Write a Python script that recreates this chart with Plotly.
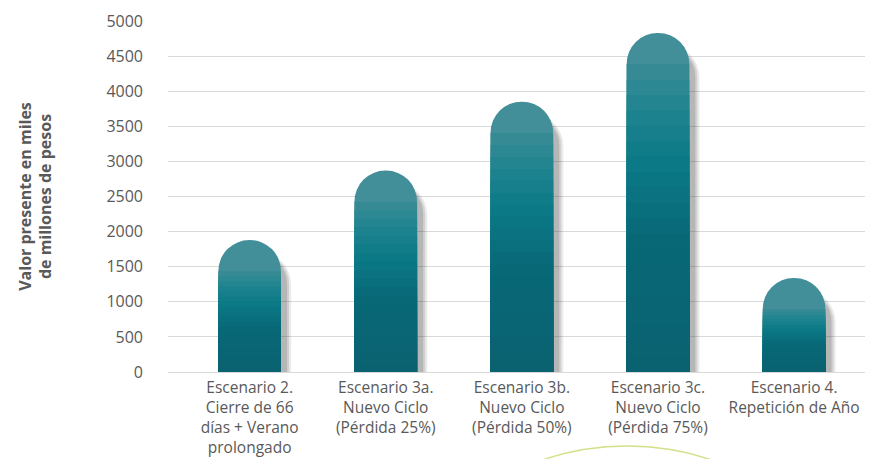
import plotly.graph_objects as go

categories = [
    "Escenario 2.<br>Cierre de 66<br>días + Verano<br>prolongado",
    "Escenario 3a.<br>Nuevo Ciclo<br>(Pérdida 25%)",
    "Escenario 3b.<br>Nuevo Ciclo<br>(Pérdida 50%)",
    "Escenario 3c.<br>Nuevo Ciclo<br>(Pérdida 75%)",
    "Escenario 4.<br>Repetición de Año",
]
values = [1880, 2870, 3850, 4830, 1340]
y_ticks = list(range(0, 5001, 500))

BAR_W = 0.46
X_RANGE = [-0.6, 4.58]
PLOT_W, PLOT_H = 705, 351
# height of the rounded cap in data units (half bar width in px -> data)
CAP = (BAR_W * PLOT_W / (X_RANGE[1] - X_RANGE[0]) / 2) * 5000 / PLOT_H

# colour stops for the vertical gradient (fraction of body height from base -> colour)
stops = [(0.0, (10, 97, 112)), (0.45, (8, 104, 118)), (0.7, (11, 121, 134)),
         (0.88, (30, 132, 143)), (1.0, (54, 138, 148))]


def grad(t):
    for (t0, c0), (t1, c1) in zip(stops, stops[1:]):
        if t0 <= t <= t1:
            k = (t - t0) / (t1 - t0)
            return "rgb(%d,%d,%d)" % tuple(round(a + (b - a) * k) for a, b in zip(c0, c1))
    return "rgb(%d,%d,%d)" % stops[-1][1]


fig = go.Figure()

# soft shadow layers (derived from the data values)
for shift, op in [(0.075, 0.10), (0.06, 0.14), (0.045, 0.18)]:
    fig.add_trace(go.Bar(
        x=categories, y=[v - 180 for v in values], width=BAR_W,
        offset=-BAR_W / 2 + shift,
        marker=dict(color=f"rgba(60,60,60,{op})", cornerradius="50%", line=dict(width=0)),
        hoverinfo="skip", showlegend=False,
    ))

# full bar with rounded cap (lightest tone)
fig.add_trace(go.Bar(
    x=categories, y=values, width=BAR_W,
    marker=dict(color="rgb(66,143,154)", cornerradius="50%", line=dict(width=0)),
    showlegend=False,
))

# gradient bands below the cap
N = 20
for i in range(N, 0, -1):
    frac = i / N
    fig.add_trace(go.Bar(
        x=categories, y=[(v - CAP) * frac for v in values], width=BAR_W,
        marker=dict(color=grad(frac), line=dict(width=0)),
        hoverinfo="skip", showlegend=False,
    ))

fig.update_layout(
    width=865, height=451,
    barmode="overlay",
    paper_bgcolor="white", plot_bgcolor="white",
    margin=dict(l=160, r=0, t=13, b=87),
    font=dict(family="Open Sans, sans-serif", size=15, color="#595959"),
    xaxis=dict(
        type="category", range=X_RANGE, automargin=False,
        showline=True, linecolor="#d9d9d9", linewidth=1,
        showgrid=False, ticks="", ticklabelstandoff=1,
        tickfont=dict(size=15.5, color="#595959"),
    ),
    yaxis=dict(
        range=[0, 5000], tickvals=y_ticks, showgrid=True, automargin=False,
        gridcolor="#d9d9d9", gridwidth=1, zeroline=False, ticks="",
        ticklabelstandoff=24, tickfont=dict(size=16, color="#595959"),
        title=dict(text="<b>Valor presente en miles<br>de millones de pesos</b>",
                   font=dict(size=16, color="#595959"), standoff=50),
    ),
    shapes=[dict(
        type="circle", xref="paper", yref="paper",
        x0=0.275, x1=1.027, y0=-1.721, y1=-0.211,
        line=dict(color="#d3e08a", width=1.5), layer="above",
    )],
)

fig.write_html("out.html")
